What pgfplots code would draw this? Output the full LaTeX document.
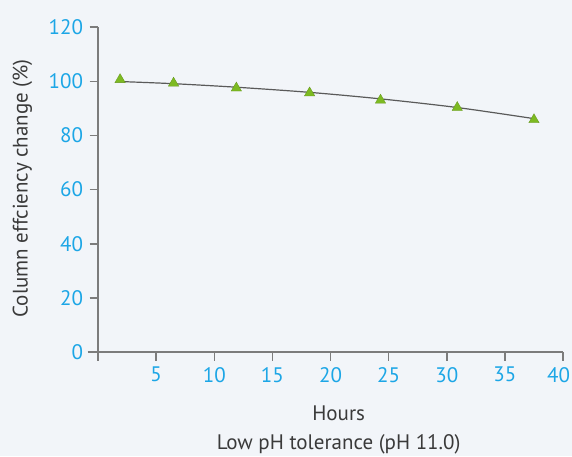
\documentclass[border=0pt]{standalone}
\usepackage{fontspec}
\setmainfont{PT Sans}
\usepackage{pgfplots}
\pgfplotsset{compat=1.18}
\usetikzlibrary{backgrounds}
\definecolor{bgc}{HTML}{F2F5F9}
\definecolor{tickc}{HTML}{1CA6E6}
\definecolor{axc}{HTML}{7C7C7C}
\definecolor{linec}{HTML}{5A5A5A}
\definecolor{markc}{HTML}{7DBA22}
\definecolor{labc}{HTML}{3A3A3A}
\begin{document}
\begin{tikzpicture}
\begin{axis}[
    scale only axis,
    width=465pt, height=325pt,
    xmin=0, xmax=40,
    ymin=0, ymax=120,
    axis x line*=bottom,
    axis y line*=left,
    axis line style={axc, line width=1.6pt},
    tick style={axc, line width=1.5pt},
    tick align=outside,
    major tick length=8.5pt,
    xtick={0,5,...,40},
    xticklabels={,5,10,15,20,25,30,35,{\kern-9pt 40}},
    ytick={0,20,...,120},
    ticklabel style={tickc, font=\fontsize{21}{24}\selectfont},
    yticklabel style={xshift=-3pt},
    xticklabel style={yshift=-3pt},
    /pgf/number format/assume math mode=true,
    clip=false,
    xlabel={Hours\\Low pH tolerance (pH 11.0)},
    xlabel style={at={(axis cs:20.7,-18.6)}, anchor=north, align=center, labc, font=\fontsize{21}{29}\selectfont},
    ylabel={Column effciency change (\%)},
    ylabel style={at={(axis cs:-6.5,60.5)}, anchor=center, rotate=0, labc, font=\fontsize{21}{24}\selectfont},
]
\draw[axc, line width=1.6pt] (axis cs:-0.9,0) -- (axis cs:0,0);
\addplot[linec, line width=1.2pt, smooth, no marks]
    coordinates {(1.9,99.9)(6.5,99.1)(11.9,97.8)(18.2,95.9)(24.3,93.5)(30.9,90.3)(37.5,86.2)};
\addplot[only marks, mark=triangle*, mark size=6pt, mark options={fill=markc, draw=markc!80!black, line width=0.3pt}]
    coordinates {(1.9,100.6)(6.5,99.3)(11.9,97.5)(18.2,95.7)(24.3,93.0)(30.9,90.3)(37.5,85.8)};
\coordinate (bl) at (axis cs:-8.43,-38.4);
\coordinate (tr) at (axis cs:40.77,130);
\end{axis}
\begin{pgfonlayer}{background}
\fill[bgc] (bl) rectangle (tr);
\end{pgfonlayer}
\pgfresetboundingbox
\useasboundingbox (bl) rectangle (tr);
\end{tikzpicture}
\end{document}
